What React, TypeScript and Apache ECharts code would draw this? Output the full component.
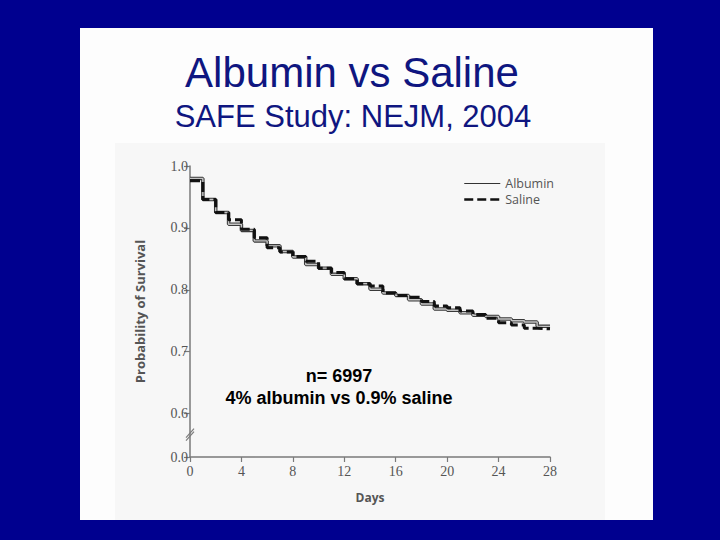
import React, { useEffect, useRef } from "react";
import * as echarts from "echarts";

const titleText = "Albumin vs Saline";
const subtitleText = "SAFE Study: NEJM, 2004";
const noteLines = ["n= 6997", "4% albumin vs 0.9% saline"];

const days = [0, 1, 2, 3, 4, 5, 6, 7, 8, 9, 10, 11, 12, 13, 14, 15, 16, 17, 18, 19, 20, 21, 22, 23, 24, 25, 26, 27, 28];
const albumin = [0.98, 0.946, 0.925, 0.906, 0.896, 0.879, 0.871, 0.862, 0.853, 0.841, 0.835, 0.825, 0.818, 0.81, 0.801, 0.795, 0.791, 0.784, 0.777, 0.769, 0.767, 0.763, 0.759, 0.757, 0.753, 0.75, 0.748, 0.741, 0.741];
const saline = [0.976, 0.946, 0.925, 0.913, 0.898, 0.884, 0.868, 0.861, 0.854, 0.846, 0.835, 0.828, 0.818, 0.81, 0.806, 0.795, 0.791, 0.788, 0.781, 0.774, 0.771, 0.766, 0.76, 0.754, 0.747, 0.743, 0.738, 0.737, 0.737];

const yTickValues = [0.53, 0.6, 0.7, 0.8, 0.9, 1.0];
const yTickLabels = ["0.0", "0.6", "0.7", "0.8", "0.9", "1.0"];
const xTicks = [0, 4, 8, 12, 16, 20, 24, 28];
const breakPoint = [[0, 0.566]];

export default function App() {
  const ref = useRef<HTMLDivElement>(null);
  useEffect(() => {
    if (!ref.current) return;
    const chart = echarts.init(ref.current, null, { renderer: "svg" });
    const albData = days.map((d, i) => [d, albumin[i]]);
    const salData = days.map((d, i) => [d, saline[i]]);
    const axisGray = "#7a7a7a";
    const labelGray = "#555555";
    chart.setOption({
      animation: false,
      backgroundColor: "#00008f",
      graphic: [
        { type: "rect", z: -10, shape: { x: 80, y: 28, width: 573, height: 492 }, style: { fill: "#fdfdfd" } },
        { type: "rect", z: -9, shape: { x: 115, y: 143, width: 490, height: 377 }, style: { fill: "#f7f7f7" } },
        {
          type: "text", z: 10, x: 352, y: 72,
          style: { text: titleText, fill: "#0f1680", font: "42px 'Liberation Sans', Arial, sans-serif", textAlign: "center", textVerticalAlign: "middle" },
        },
        {
          type: "text", z: 10, x: 353, y: 116,
          style: { text: subtitleText, fill: "#0f1680", font: "31px 'Liberation Sans', Arial, sans-serif", textAlign: "center", textVerticalAlign: "middle" },
        },
        {
          type: "text", z: 10, x: 339, y: 376,
          style: { text: noteLines[0], fill: "#000", font: "bold 18px 'Liberation Sans', Arial, sans-serif", textAlign: "center", textVerticalAlign: "middle" },
        },
        {
          type: "text", z: 10, x: 339, y: 398,
          style: { text: noteLines[1], fill: "#000", font: "bold 18px 'Liberation Sans', Arial, sans-serif", textAlign: "center", textVerticalAlign: "middle" },
        },
      ],
      grid: { left: 190, right: 170, top: 166, bottom: 83, containLabel: false },
      legend: {
        orient: "vertical",
        left: 458,
        top: 172,
        itemWidth: 36,
        itemHeight: 10,
        itemGap: 3,
        textStyle: { color: labelGray, fontSize: 12.5, fontFamily: "'Open Sans', 'Noto Sans', sans-serif" },
        data: [
          { name: "Albumin", itemStyle: { opacity: 0 }, lineStyle: { color: "#333", width: 1.2, type: "solid", opacity: 1 } },
          { name: "Saline", itemStyle: { opacity: 0 }, lineStyle: { color: "#111", width: 2.5, type: [9, 4], opacity: 1 } },
        ],
      },
      xAxis: {
        type: "value",
        min: 0,
        max: 28,
        interval: 4,
        name: "Days",
        nameLocation: "middle",
        nameGap: 34,
        nameTextStyle: { color: labelGray, fontSize: 12, fontWeight: "bold", fontFamily: "'Open Sans', 'Noto Sans', sans-serif" },
        axisLine: { lineStyle: { color: axisGray, width: 1.5 } },
        axisTick: { length: 5, lineStyle: { color: axisGray, width: 1.2 }, customValues: xTicks },
        axisLabel: { color: labelGray, fontSize: 14, margin: 7, fontFamily: "'Liberation Serif', 'DejaVu Serif', serif", customValues: xTicks },
        splitLine: { show: false },
      },
      yAxis: {
        type: "value",
        min: 0.53,
        max: 1.0,
        name: "Probability of Survival",
        nameLocation: "middle",
        nameRotate: 90,
        nameGap: 44,
        nameTextStyle: { color: labelGray, fontSize: 13, fontWeight: "bold", fontFamily: "'Open Sans', 'Noto Sans', sans-serif" },
        axisLine: { show: true, lineStyle: { color: axisGray, width: 1.5 } },
        axisTick: { show: true, length: 6, lineStyle: { color: axisGray, width: 1.2 }, customValues: yTickValues },
        axisLabel: {
          color: labelGray,
          fontSize: 14,
          margin: 2,
          fontFamily: "'Liberation Serif', 'DejaVu Serif', serif",
          customValues: yTickValues,
          formatter: (v: number) => {
            const i = yTickValues.findIndex((t) => Math.abs(t - v) < 1e-6);
            return i >= 0 ? yTickLabels[i] : "";
          },
        },
        splitLine: { show: false },
      },
      series: [
        {
          name: "Albumin",
          type: "line",
          step: "end",
          symbol: "none",
          data: albData,
          lineStyle: { color: "#3a3a3a", width: 3.5 },
          itemStyle: { color: "#3a3a3a" },
          z: 3,
        },
        {
          name: "Albumin core",
          type: "line",
          step: "end",
          symbol: "none",
          data: albData,
          lineStyle: { color: "#c4c4c4", width: 1.4 },
          itemStyle: { color: "#c4c4c4" },
          z: 4,
        },
        {
          name: "Saline",
          type: "line",
          step: "end",
          symbol: "none",
          data: salData,
          lineStyle: { color: "#111", width: 3, type: [10, 4] },
          itemStyle: { color: "#111" },
          z: 5,
        },
        {
          name: "break",
          type: "custom",
          data: breakPoint,
          clip: false,
          silent: true,
          z: 6,
          renderItem: (params: any, api: any) => {
            const p = api.coord([api.value(0), api.value(1)]);
            const x = p[0];
            const y = p[1];
            return {
              type: "group",
              children: [
                { type: "line", shape: { x1: x - 4, y1: y + 3, x2: x + 4, y2: y - 6 }, style: { stroke: axisGray, lineWidth: 1.2 } },
                { type: "line", shape: { x1: x - 4, y1: y + 6, x2: x + 4, y2: y - 3 }, style: { stroke: axisGray, lineWidth: 1.2 } },
              ],
            };
          },
        },
      ],
    });
    return () => chart.dispose();
  }, []);
  return <div ref={ref} style={{ position: "fixed", left: 0, top: 0, width: 720, height: 540 }} />;
}
